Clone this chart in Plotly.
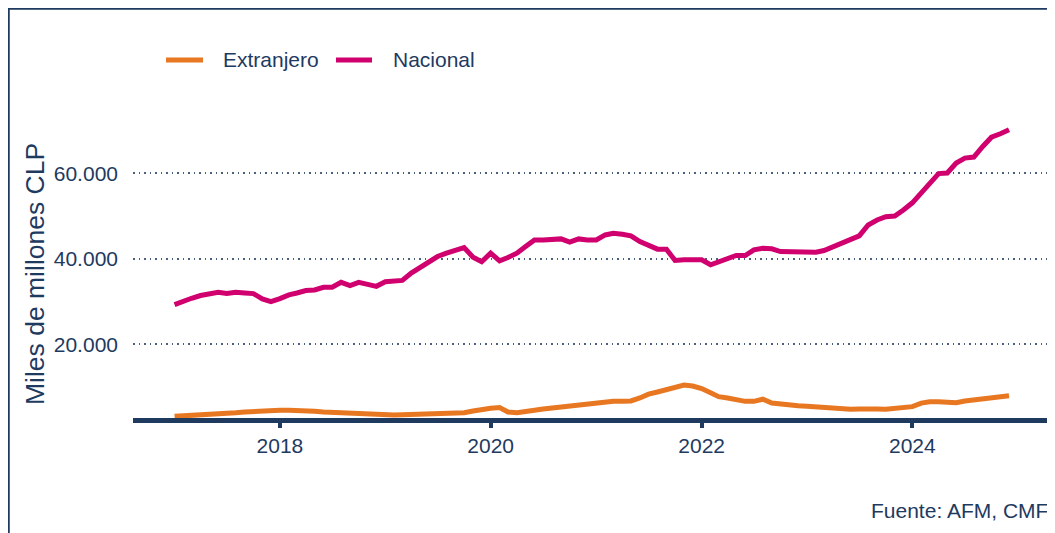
import pandas as pd
import plotly.graph_objects as go

# Monthly dates Jan 2017 - Dec 2024
fechas = pd.date_range("2017-01-01", "2024-12-01", freq="MS")

nacional = [
    29300, 30200, 30770, 31400, 31860, 32170, 31860, 32170, 32000, 31860, 30620, 30000,
    30700, 31550, 32000, 32560, 32700, 33330, 33330, 34500, 33720, 34500, 34000, 33560,
    34650, 34720, 34950, 36670, 37980, 39140, 40530, 41320, 41930, 42640, 40390, 39300,
    41320, 39530, 40300, 41320, 42870, 44420, 44420, 44420, 44650, 43880, 44650, 44420,
    44420, 45580, 45970, 45740, 45350, 44030, 43020, 42250, 42250, 39600, 39770, 39770,
    39770, 38600, 39370, 40160, 40770, 40770, 42090, 42480, 42330, 41700, 41700, 41470,
    41550, 41550, 41930, 42870, 43650, 44420, 45350, 47910, 49070, 49840, 50000, 51400,
    53090, 55420, 57600, 59930, 60070, 62400, 63560, 63790, 66280, 68440, 69230, 70160,
]

extranjero = [
    3150, 3230, 3290, 3370, 3500, 3650, 3800, 3970, 4150, 4290, 4400, 4510,
    4560, 4560, 4560, 4450, 4330, 4190, 4080, 3950, 3870, 3730, 3550, 3470,
    3450, 3470, 3510, 3550, 3610, 3670, 3750, 3780, 3750, 4000, 4400, 4800,
    5050, 5200, 4150, 4010, 4150, 4550, 4850, 5100, 5400, 5600, 5850, 6050,
    6400, 6570, 6650, 6700, 6750, 7450, 8350, 8850, 9440, 9900, 10450, 10250,
    9650, 8650, 7750, 7450, 7100, 6650, 6650, 7150, 6250, 5950, 5750, 5600,
    5500, 5350, 5150, 5000, 4850, 4790, 4850, 4940, 4850, 4790, 4950, 5100,
    5410, 6250, 6550, 6570, 6450, 6350, 6750, 6950, 7150, 7450, 7700, 7960,
]

series_names = ["Extranjero", "Nacional"]
tick_vals_y = [20000, 40000, 60000]
tick_vals_x = ["2018-01-01", "2020-01-01", "2022-01-01", "2024-01-01"]
tick_text_x = ["2018", "2020", "2022", "2024"]

NAVY = "#1E3A5F"
GRID = "#4A5F7E"
ORANGE = "#E87722"
MAGENTA = "#D0006F"
COLORS = [ORANGE, MAGENTA]
FONT = "Liberation Sans, Arial, sans-serif"

fig = go.Figure()
for name, vals, col in zip(series_names, [extranjero, nacional], COLORS):
    fig.add_trace(go.Scatter(x=fechas, y=vals, mode="lines", name=name,
                             line=dict(color=col, width=5)))

W, H = 1055, 533
L, R, T, B = 125, 15, 102, 123
pw, ph = W - L - R, H - T - B

def px(xp):
    return (xp - L) / pw

def py(yp):
    return (H - B - yp) / ph

# manual legend (sample line + label)
legend_items = [(158, 195, 213), (328, 364, 383)]
shapes = []
annotations = []
for (x0, x1, xt), name, col in zip(legend_items, series_names, COLORS):
    shapes.append(dict(type="line", xref="paper", yref="paper",
                       x0=px(x0), x1=px(x1), y0=py(52), y1=py(52),
                       line=dict(color=col, width=5)))
    annotations.append(dict(text=name, xref="paper", yref="paper",
                            x=px(xt), y=py(52), xanchor="left", yanchor="middle",
                            showarrow=False, font=dict(size=21, color=NAVY)))

annotations += [
    dict(text="Miles de millones CLP", xref="paper", yref="paper",
         x=px(27), y=py(266), xanchor="center", yanchor="middle",
         textangle=-90, showarrow=False, font=dict(size=26.5, color=NAVY)),
    dict(text="Fuente: AFM, CMF", xref="paper", yref="paper",
         x=px(1042), y=py(502), xanchor="right", yanchor="middle",
         showarrow=False, font=dict(size=21, color=NAVY)),
]

shapes += [
    dict(type="rect", xref="paper", yref="paper", x0=px(0.5), x1=px(1054.5),
         y0=py(0.5), y1=py(532.5), line=dict(color=NAVY, width=2.5)),
]

fig.update_layout(
    width=W, height=H,
    margin=dict(l=L, r=R, t=T, b=B),
    paper_bgcolor="white", plot_bgcolor="white",
    separators=",.",
    font=dict(family=FONT, size=21, color=NAVY),
    showlegend=False,
    xaxis=dict(type="date", range=["2016-08-10", "2025-04-15"],
               tickvals=tick_vals_x, ticktext=tick_text_x,
               showline=True, linecolor=NAVY, linewidth=5,
               ticks="outside", ticklen=5, tickwidth=4, tickcolor=NAVY,
               showgrid=False, zeroline=False,
               tickfont=dict(size=21, color=NAVY)),
    yaxis=dict(range=[2760, 74800], tickvals=tick_vals_y, tickformat=",",
               showline=False, showgrid=True, gridcolor=GRID, gridwidth=1.5,
               griddash="1.5px,4px", zeroline=False, ticks="",
               ticklabelstandoff=14,
               tickfont=dict(size=21, color=NAVY)),
    annotations=annotations,
    shapes=shapes,
)

fig.write_html("out.html")
